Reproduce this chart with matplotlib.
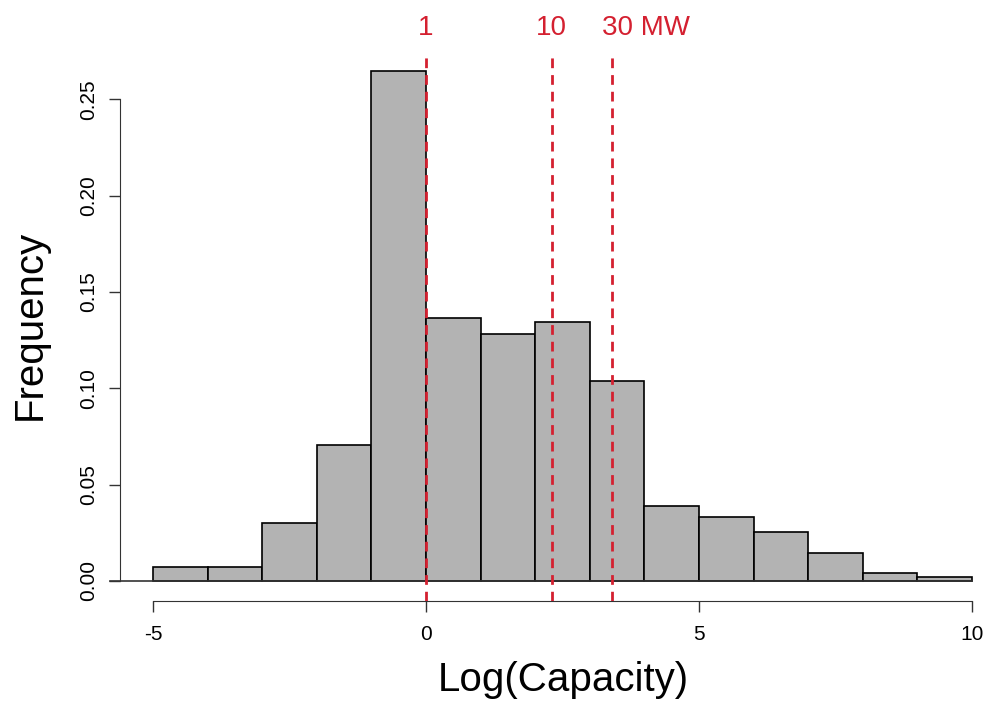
import numpy as np
import matplotlib
matplotlib.use("Agg")
import matplotlib.pyplot as plt
import matplotlib.transforms as mtransforms

plt.rcParams['font.family'] = ['Liberation Sans', 'DejaVu Sans']

# histogram of log(capacity)
edges = [-5, -4, -3, -2, -1, 0, 1, 2, 3, 4, 5, 6, 7, 8, 9, 10]
freq = [0.0073, 0.0073, 0.0300, 0.0705, 0.2645, 0.1364, 0.1280, 0.1343,
        0.1037, 0.0389, 0.0332, 0.0254, 0.0145, 0.0041, 0.0021]
cut_mw = [1, 10, 30]
cut_labels = ["1", "10", "30 MW"]
xticks = [-5, 0, 5, 10]
yticks = [0.00, 0.05, 0.10, 0.15, 0.20, 0.25]

red = "#D42030"

fig = plt.figure(figsize=(9.87, 7.03), dpi=100)
ax = fig.add_axes([0.1218, 0.1445, 0.8962, 0.7832])

ax.bar(edges[:-1], freq, width=1, align='edge', color="#B3B3B3",
       edgecolor="black", linewidth=1.2, zorder=2)
ax.plot([-5.79, 10], [0, 0], color="#333333", lw=1.2, clip_on=False, zorder=3)

for v in cut_mw:
    ax.axvline(np.log(v), color=red, lw=2, dashes=(3.5, 2.5), zorder=4)

trans = mtransforms.blended_transform_factory(ax.transData, fig.transFigure)
for v, lab in zip(cut_mw, cut_labels):
    if lab == "30 MW":
        ax.annotate(lab, xy=(np.log(v), 0.96), xycoords=trans,
                    xytext=(-10, 0), textcoords='offset pixels',
                    ha='left', va='center', color=red, fontsize=20)
    else:
        ax.text(np.log(v), 0.96, lab, transform=trans, ha='center',
                va='center', color=red, fontsize=20)

ax.set_xlim(-5.6, 10.6)
ax.set_ylim(-0.0106, 0.2751)

for s in ['top', 'right']:
    ax.spines[s].set_visible(False)
ax.spines['left'].set_bounds(0, 0.25)
ax.spines['bottom'].set_bounds(-5, 10)
ax.spines['left'].set_color("#333333")
ax.spines['bottom'].set_color("#333333")

ax.set_xticks(xticks)
ax.set_xticklabels([str(t) for t in xticks])
ax.set_yticks(yticks)
ax.set_yticklabels(["%.2f" % t for t in yticks], rotation=90, va='center')
ax.tick_params(axis='both', length=8, width=1, labelsize=15, color="#333333")
ax.tick_params(axis='y', pad=8)
ax.tick_params(axis='x', pad=9)

fig.text(0.030, 1 - 325 / 703, "Frequency", rotation=90, ha='center',
         va='center', fontsize=29)
fig.text(563 / 987, 1 - 680 / 703, "Log(Capacity)", ha='center',
         va='center', fontsize=29)

fig.savefig("out.png", dpi=100)
